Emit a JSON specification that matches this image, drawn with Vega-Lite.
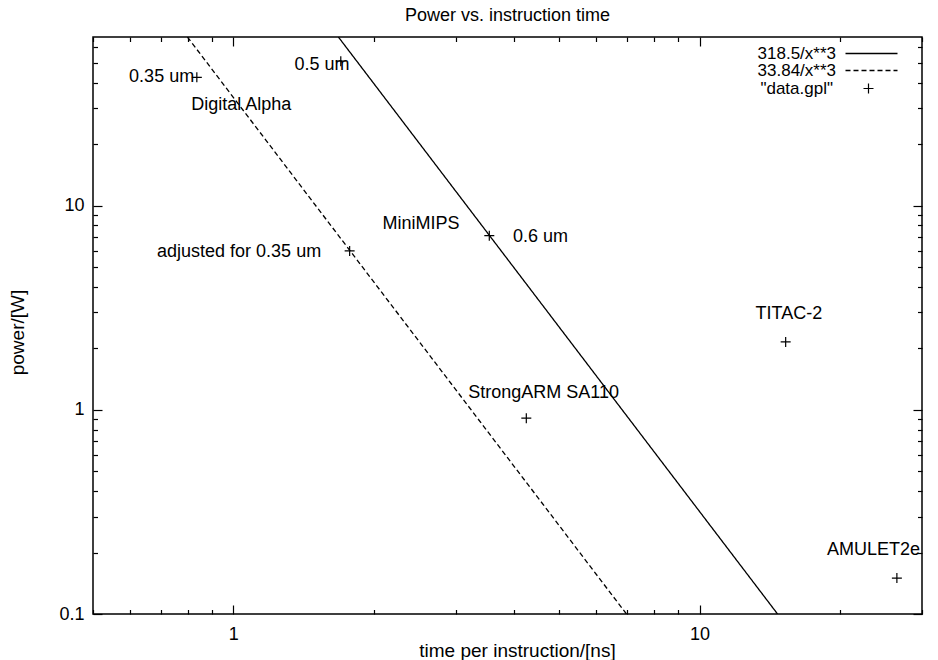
{
  "$schema": "https://vega.github.io/schema/vega-lite/v6.json",
  "width": 829,
  "height": 577,
  "autosize": "none",
  "padding": {"left": 93, "top": 37, "right": 16, "bottom": 46},
  "background": "white",
  "title": {"text": "Power vs. instruction time", "fontSize": 18, "fontWeight": "normal", "font": "Liberation Sans", "color": "black", "anchor": "middle", "baseline": "alphabetic", "offset": -3},
  "config": {
    "view": {"stroke": "black", "strokeWidth": 1.5},
    "font": "Liberation Sans",
    "axis": {"domain": false, "grid": false, "tickColor": "black", "tickWidth": 1.2, "labelColor": "black", "labelFontSize": 18, "labelFont": "Liberation Sans", "titleColor": "black", "titleFontSize": 19, "titleFontWeight": "normal", "titleFont": "Liberation Sans", "labelOverlap": false, "labelFlush": false},
    "legend": {"labelColor": "black", "labelFont": "Liberation Sans", "labelFontSize": 17, "padding": 0, "title": null}
  },
  "datasets": {
    "curves": [
      {"series": "318.5/x**3", "t": 1.68, "p": 67},
      {"series": "318.5/x**3", "t": 14.7, "p": 0.1},
      {"series": "33.84/x**3", "t": 0.797, "p": 67},
      {"series": "33.84/x**3", "t": 6.97, "p": 0.1}
    ],
    "points": [
      {"series": "\"data.gpl\"", "t": 0.835, "p": 42.5},
      {"series": "\"data.gpl\"", "t": 1.70, "p": 51},
      {"series": "\"data.gpl\"", "t": 1.776, "p": 6.0},
      {"series": "\"data.gpl\"", "t": 3.54, "p": 7.13},
      {"series": "\"data.gpl\"", "t": 4.25, "p": 0.91},
      {"series": "\"data.gpl\"", "t": 15.3, "p": 2.15},
      {"series": "\"data.gpl\"", "t": 26.5, "p": 0.150}
    ],
    "labels": [
      {"label": "0.35 um", "t": 0.5976, "p": 42.5},
      {"label": "Digital Alpha", "t": 0.812, "p": 31.0},
      {"label": "0.5 um", "t": 1.353, "p": 48.7},
      {"label": "MiniMIPS", "t": 2.09, "p": 8.16},
      {"label": "0.6 um", "t": 3.98, "p": 7.04},
      {"label": "adjusted for 0.35 um", "t": 0.686, "p": 5.94},
      {"label": "StrongARM SA110", "t": 3.19, "p": 1.205},
      {"label": "TITAC-2", "t": 13.19, "p": 2.94},
      {"label": "AMULET2e", "t": 18.76, "p": 0.206}
    ]
  },
  "layer": [
    {
      "data": {"name": "curves"},
      "mark": {"type": "line", "color": "black", "strokeWidth": 1.3, "clip": true},
      "encoding": {
        "x": {"field": "t", "type": "quantitative", "scale": {"type": "log", "domain": [0.5, 30], "nice": false, "zero": false},
          "axis": {"orient": "bottom", "title": "time per instruction/[ns]", "values": [0.5,0.6,0.7,0.8,0.9,1,2,3,4,5,6,7,8,9,10,20,30],
            "labelExpr": "datum.value == 1 ? '1' : datum.value == 10 ? '10' : ''",
            "tickSize": {"condition": {"test": "datum.value == 1 || datum.value == 10", "value": -9}, "value": -4.5},
            "labelPadding": 20, "titlePadding": -6, "titleX": 424}},
        "y": {"field": "p", "type": "quantitative", "scale": {"type": "log", "domain": [0.1, 67], "nice": false, "zero": false},
          "axis": {"orient": "left", "title": "power/[W]", "values": [0.1,0.2,0.3,0.4,0.5,0.6,0.7,0.8,0.9,1,2,3,4,5,6,7,8,9,10,20,30,40,50,60],
            "labelExpr": "datum.value == 1 ? '1' : datum.value == 10 ? '10' : datum.value == 0.1 ? '0.1' : ''",
            "tickSize": {"condition": {"test": "datum.value == 1 || datum.value == 10 || datum.value == 0.1", "value": -9}, "value": -4.5},
            "labelPadding": 18, "titlePadding": 31, "titleY": 295}},
        "strokeDash": {"field": "series", "type": "nominal", "scale": {"domain": ["318.5/x**3", "33.84/x**3"], "range": [[1, 0], [5, 3]]},
          "legend": {"orient": "none", "legendX": 770, "legendY": 8, "symbolType": "M-5.2,0L5.2,0", "symbolSize": 100, "symbolStrokeColor": "black", "symbolStrokeWidth": 1.3, "labelAlign": "right", "labelOffset": -44, "rowPadding": -1}}
      }
    },
    {
      "data": {"name": "points"},
      "mark": {"type": "point", "filled": false, "stroke": "black", "strokeWidth": 1.2, "size": 100, "opacity": 1},
      "encoding": {
        "x": {"field": "t", "type": "quantitative",
          "axis": {"orient": "top", "title": null, "labels": false, "values": [0.5,0.6,0.7,0.8,0.9,1,2,3,4,5,6,7,8,9,10,20,30],
            "tickSize": {"condition": {"test": "datum.value == 1 || datum.value == 10", "value": -9}, "value": -4.5}}},
        "y": {"field": "p", "type": "quantitative",
          "axis": {"orient": "right", "title": null, "labels": false, "values": [0.1,0.2,0.3,0.4,0.5,0.6,0.7,0.8,0.9,1,2,3,4,5,6,7,8,9,10,20,30,40,50,60],
            "tickSize": {"condition": {"test": "datum.value == 1 || datum.value == 10 || datum.value == 0.1", "value": -9}, "value": -4.5}}},
        "shape": {"field": "series", "type": "nominal", "scale": {"domain": ["\"data.gpl\""], "range": ["M-1,0L1,0M0,-1L0,1"]},
          "legend": {"orient": "none", "legendX": 767, "legendY": 43, "symbolStrokeColor": "black", "symbolFillColor": "transparent", "symbolSize": 100, "symbolStrokeWidth": 1.2, "labelAlign": "right", "labelOffset": -44}}
      }
    },
    {
      "data": {"name": "labels"},
      "mark": {"type": "text", "align": "left", "baseline": "middle", "fontSize": 18, "font": "Liberation Sans", "color": "black"},
      "encoding": {
        "x": {"field": "t", "type": "quantitative", "axis": null},
        "y": {"field": "p", "type": "quantitative", "axis": null},
        "text": {"field": "label"}
      }
    }
  ],
  "resolve": {"axis": {"x": "independent", "y": "independent"}}
}
